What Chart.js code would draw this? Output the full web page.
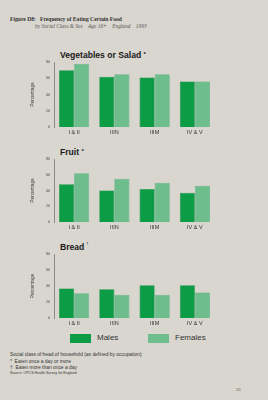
<!DOCTYPE html>
<html>
<head>
<meta charset="utf-8">
<script src="https://cdn.jsdelivr.net/npm/chart.js@4"></script>
<style>
  html, body { margin: 0; padding: 0; }
  body {
    width: 268px; height: 400px; position: relative; overflow: hidden;
    background: #d9d6cf; font-family: "Liberation Sans", Arial, sans-serif; color: #222;
  }
  .abs { position: absolute; white-space: nowrap; }
  .panel { position: absolute; left: 30px; width: 185px; }
  .ptitle { position: absolute; left: 60px; font-weight: bold; font-size: 8.6px; color: #1a1a1a; }
  .ptitle sup { font-size: 4px; font-weight: normal; vertical-align: 5px; margin-left: 2px; }
  .swatch { position: absolute; width: 21px; height: 9px; }
  .note { position: absolute; left: 10px; font-size: 4.9px; color: #333; white-space: nowrap; }
</style>
</head>
<body>
<div class="abs" style="left:10px; top:15.5px; font-family:'Liberation Serif',serif; font-weight:bold; font-size:5.6px; color:#333;">Figure D8:&nbsp;&nbsp;&nbsp;Frequency of Eating Certain Food</div>
<div class="abs" style="left:35px; top:22.5px; font-family:'Liberation Serif',serif; font-style:italic; font-size:5.4px; color:#555;">by Social Class &amp; Sex&nbsp;&nbsp;&nbsp;&nbsp;Age 16+&nbsp;&nbsp;&nbsp;&nbsp;England&nbsp;&nbsp;&nbsp;&nbsp;1993</div>

<div class="ptitle" style="top:50px;">Vegetables or Salad <span style="font-size:6px;vertical-align:2px">*</span></div>
<div class="panel" style="top:58px; height:80px;"><canvas id="c1"></canvas></div>

<div class="ptitle" style="top:147px;">Fruit <span style="font-size:6px;vertical-align:2px">*</span></div>
<div class="panel" style="top:155px; height:78px;"><canvas id="c2"></canvas></div>

<div class="ptitle" style="top:241px;">Bread<sup>†</sup></div>
<div class="panel" style="top:250px; height:79px;"><canvas id="c3"></canvas></div>

<div class="swatch" style="left:70px; top:334px; background:#0c9c46;"></div>
<div class="abs" style="left:97px; top:333px; font-size:8px; color:#333;">Males</div>
<div class="swatch" style="left:148px; top:334px; background:#6dbd8d;"></div>
<div class="abs" style="left:175px; top:333px; font-size:8px; color:#333;">Females</div>

<div class="note" style="top:352px;">Social class of head of household (as defined by occupation)</div>
<div class="note" style="top:358.5px;">*&nbsp; Eaten once a day or more</div>
<div class="note" style="top:364.5px;">†&nbsp; Eaten more than once a day</div>
<div class="note" style="top:371px; font-size:3.6px;">Source: OPCS Health Survey for England</div>
<div class="abs" style="left:236px; top:387px; font-family:'Liberation Serif',serif; font-size:4.5px; color:#444;">33</div>

<script>
// Social class categories
const classes = ['I & II', 'IIIN', 'IIIM', 'IV & V'];
const yTicks = [0, 20, 40, 60, 80];

// Vegetables or salad, eaten once a day or more (%)
const vegMales = [70, 62, 61, 56];
const vegFemales = [78, 65, 65, 56];

// Fruit, eaten once a day or more (%)
const fruitMales = [48, 40, 42, 37];
const fruitFemales = [62, 55, 50, 46];

// Bread, eaten more than once a day (%)
const breadMales = [37, 36, 41, 41];
const breadFemales = [31, 29, 29, 32];

const maleColor = '#0c9c46';
const femaleColor = '#6dbd8d';

function makeChart(id, males, females) {
    const ctx = document.getElementById(id);
    return new Chart(ctx, {
        type: 'bar',
        data: {
            labels: classes,
            datasets: [{
                label: 'Males',
                data: males,
                backgroundColor: maleColor,
                borderColor: '#088a3b',
                borderWidth: 0.6
            }, {
                label: 'Females',
                data: females,
                backgroundColor: femaleColor,
                borderColor: '#52a874',
                borderWidth: 0.6
            }]
        },
        options: {
            responsive: true,
            maintainAspectRatio: false,
            animation: false,
            layout: { padding: { top: 4, right: 0, left: 0, bottom: 0 } },
            datasets: { bar: { categoryPercentage: 0.75, barPercentage: 1 } },
            plugins: {
                legend: { display: false },
                tooltip: { enabled: false }
            },
            scales: {
                x: {
                    grid: { display: false, drawTicks: false },
                    border: { display: false },
                    ticks: {
                        color: '#333',
                        font: { size: 5.5, family: 'Liberation Sans' },
                        padding: 2
                    },
                    afterFit: function(scale) { scale.height = 11; }
                },
                y: {
                    min: 0,
                    max: 80,
                    afterBuildTicks: function(scale) {
                        scale.ticks = yTicks.map(v => ({ value: v }));
                    },
                    grid: { display: false, drawTicks: true, tickLength: 3, color: '#555' },
                    border: { display: true, color: '#555', width: 0.6 },
                    ticks: {
                        color: '#444',
                        font: { size: 3.6, family: 'Liberation Sans' },
                        padding: 1
                    },
                    title: {
                        display: true,
                        text: 'Percentage',
                        color: '#444',
                        font: { size: 4.8, family: 'Liberation Sans' },
                        padding: 0
                    },
                    afterFit: function(scale) { scale.width = 24; }
                }
            }
        }
    });
}

makeChart('c1', vegMales, vegFemales);
makeChart('c2', fruitMales, fruitFemales);
makeChart('c3', breadMales, breadFemales);
</script>
</body>
</html>
